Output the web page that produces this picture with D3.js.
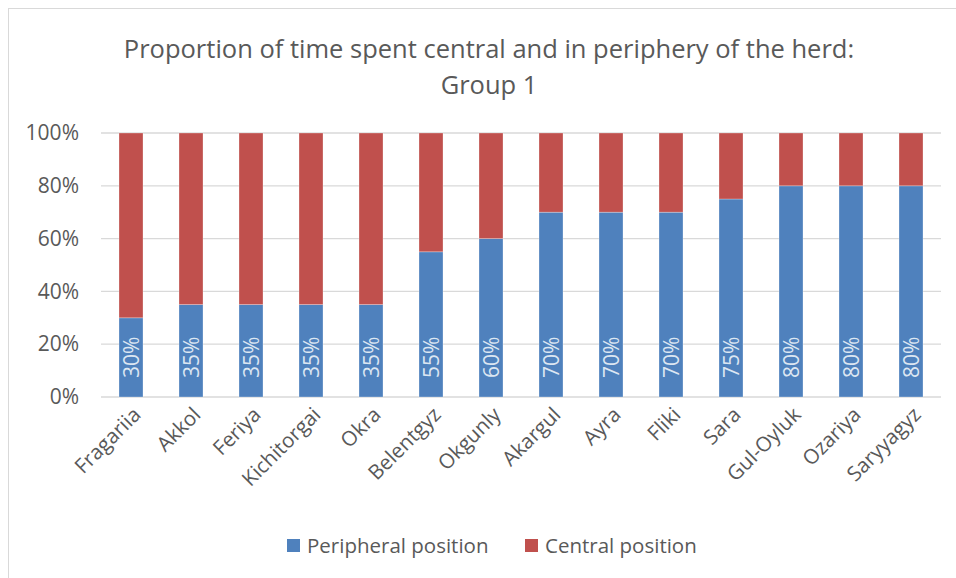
<!DOCTYPE html>
<html>
<head>
<meta charset="utf-8">
<script src="https://cdn.jsdelivr.net/npm/d3@7"></script>
<style>
  body { margin: 0; background: #fff; }
  svg text { font-family: "Open Sans", "Lato", sans-serif; }
</style>
</head>
<body>
<div id="chart"></div>
<script>
// chart data
const horses = ["Fragariia", "Akkol", "Feriya", "Kichitorgai", "Okra", "Belentgyz", "Okgunly",
  "Akargul", "Ayra", "Fliki", "Sara", "Gul-Oyluk", "Ozariya", "Saryyagyz"];
const peripheral = [30, 35, 35, 35, 35, 55, 60, 70, 70, 70, 75, 80, 80, 80];
const central = [70, 65, 65, 65, 65, 45, 40, 30, 30, 30, 25, 20, 20, 20];
const seriesNames = ["Peripheral position", "Central position"];
const yTicks = [0, 20, 40, 60, 80, 100];

const W = 956, H = 578;
const margin = { top: 133, right: 15, bottom: 181, left: 101 };
const colors = ["#4f81bd", "#c0504d"];

const svg = d3.select("#chart").append("svg")
  .attr("width", W)
  .attr("height", H);

// outer frame of the chart
svg.append("rect")
  .attr("x", 8.5).attr("y", 8.5)
  .attr("width", W).attr("height", H)
  .attr("fill", "none")
  .attr("stroke", "#d9d9d9");

// title, two lines
svg.append("text")
  .attr("x", 489).attr("y", 58)
  .attr("text-anchor", "middle")
  .style("font-size", "25.5px")
  .style("fill", "#595959")
  .text("Proportion of time spent central and in periphery of the herd:");
svg.append("text")
  .attr("x", 489).attr("y", 94)
  .attr("text-anchor", "middle")
  .style("font-size", "25.5px")
  .style("fill", "#595959")
  .text("Group 1");

const g = svg.append("g")
  .attr("transform", `translate(${margin.left},${margin.top})`);

const innerW = W - margin.left - margin.right;
const innerH = H - margin.top - margin.bottom;

const x = d3.scaleBand()
  .domain(horses)
  .range([0, innerW])
  .paddingInner(0.6)
  .paddingOuter(0.3);

const y = d3.scaleLinear()
  .domain([0, 100])
  .range([innerH, 0]);

// gridlines
g.append("g")
  .selectAll("line")
  .data(yTicks)
  .enter().append("line")
    .attr("x1", 0).attr("x2", innerW)
    .attr("y1", d => y(d)).attr("y2", d => y(d))
    .attr("stroke", "#d9d9d9")
    .attr("stroke-width", 1.3);

// y axis labels
const yAxis = g.append("g")
  .call(d3.axisLeft(y).tickValues(yTicks).tickFormat(d => d + "%").tickSize(0).tickPadding(22));
yAxis.select(".domain").remove();
yAxis.selectAll("text")
  .style("font-size", "21px")
  .style("fill", "#595959");

// stack the two series
const rows = horses.map((h, i) => ({ name: h, p: peripheral[i], c: central[i] }));
const stacked = d3.stack().keys(["p", "c"])(rows);

g.selectAll(".series")
  .data(stacked)
  .enter().append("g")
    .attr("fill", (d, i) => colors[i])
  .selectAll("rect")
  .data(d => d)
  .enter().append("rect")
    .attr("x", d => x(d.data.name))
    .attr("y", d => y(d[1]))
    .attr("width", x.bandwidth())
    .attr("height", d => y(d[0]) - y(d[1]))
    .attr("stroke", "#fff")
    .attr("stroke-opacity", 0.35)
    .attr("stroke-width", 0.8);

// value labels inside the blue bars, rotated
g.selectAll(".vlabel")
  .data(rows)
  .enter().append("text")
    .attr("class", "vlabel")
    .attr("transform", d => `translate(${x(d.name) + x.bandwidth() / 2 + 7.5},${innerH - 19}) rotate(-90)`)
    .attr("text-anchor", "start")
    .style("font-size", "21px")
    .style("fill", "#dce6f2")
    .text(d => d.p + "%");

// x axis labels, rotated 45 degrees
const xAxis = g.append("g")
  .attr("transform", `translate(0,${innerH})`)
  .call(d3.axisBottom(x).tickSize(0).tickPadding(0));
xAxis.select(".domain").remove();
xAxis.selectAll("text")
  .style("font-size", "20.5px")
  .style("fill", "#595959")
  .style("text-anchor", "end")
  .attr("dy", "0")
  .attr("transform", "translate(11,19) rotate(-45)");

// legend
const legendItems = [
  { name: seriesNames[0], color: colors[0], x: 287 },
  { name: seriesNames[1], color: colors[1], x: 525 }
];
const legend = svg.append("g");
legend.selectAll("rect")
  .data(legendItems)
  .enter().append("rect")
    .attr("x", d => d.x).attr("y", 539)
    .attr("width", 13).attr("height", 13)
    .attr("fill", d => d.color);
legend.selectAll("text")
  .data(legendItems)
  .enter().append("text")
    .attr("x", d => d.x + 20).attr("y", 553)
    .style("font-size", "20.5px")
    .style("fill", "#595959")
    .text(d => d.name);
</script>
</body>
</html>
